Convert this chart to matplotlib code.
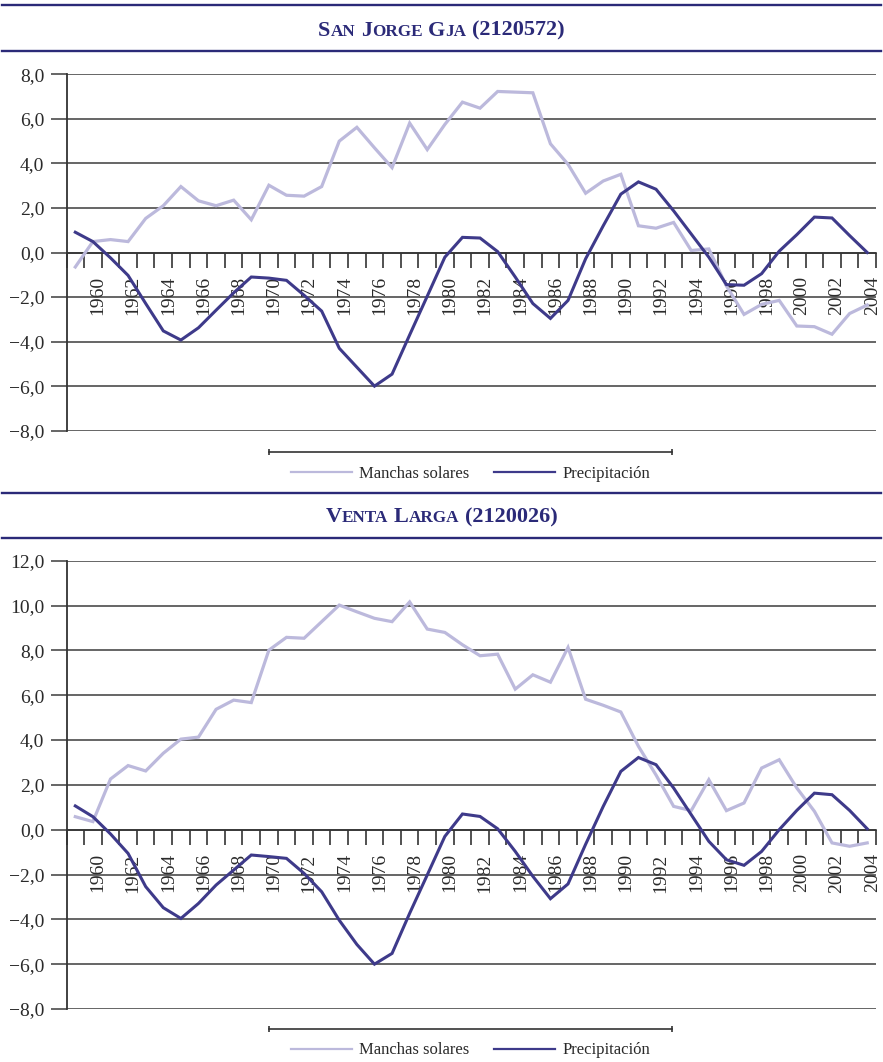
import matplotlib
matplotlib.use("Agg")
import matplotlib.pyplot as plt
from matplotlib.lines import Line2D
from matplotlib.ticker import FixedLocator, FuncFormatter
import matplotlib.transforms as mtransforms

# ---------------- data ----------------
years = list(range(1959, 2005))
label_years = list(range(1960, 2005, 2))

sj_manchas = [-0.65, 0.49, 0.58, 0.49, 1.53, 2.10, 2.96, 2.32, 2.10, 2.35,
              1.47, 3.02, 2.57, 2.53, 2.96, 5.00, 5.62, 4.70, 3.81, 5.81,
              4.62, 5.75, 6.75, 6.48, 7.23, 7.20, 7.17, 4.88, 3.96, 2.66,
              3.21, 3.51, 1.20, 1.09, 1.35, 0.09, 0.16, -1.50, -2.78, -2.33,
              -2.15, -3.30, -3.33, -3.67, -2.74, -2.36]
sj_precip = [0.91, 0.49, -0.24, -1.03, -2.29, -3.52, -3.93, -3.38, -2.59, -1.81,
             -1.10, -1.15, -1.25, -1.92, -2.63, -4.30, -5.15, -6.00, -5.46, -3.70,
             -1.96, -0.21, 0.68, 0.65, 0.04, -1.10, -2.29, -2.96, -2.15, -0.28,
             1.20, 2.62, 3.17, 2.84, 1.87, 0.83, -0.21, -1.44, -1.47, -0.95,
             0.06, 0.80, 1.59, 1.55, 0.76, 0.00]
vl_manchas = [0.58, 0.36, 2.26, 2.86, 2.62, 3.41, 4.04, 4.13, 5.37, 5.78,
              5.67, 8.01, 8.58, 8.54, 9.28, 10.02, 9.72, 9.43, 9.28, 10.16,
              8.95, 8.80, 8.25, 7.76, 7.83, 6.27, 6.91, 6.58, 8.13, 5.82,
              5.55, 5.25, 3.72, 2.44, 1.04, 0.85, 2.23, 0.85, 1.19, 2.75,
              3.12, 1.86, 0.82, -0.59, -0.74, -0.59]
vl_precip = [1.06, 0.58, -0.19, -1.06, -2.54, -3.48, -3.96, -3.29, -2.47, -1.80,
             -1.13, -1.20, -1.28, -1.95, -2.77, -4.04, -5.12, -6.00, -5.52, -3.73,
             -2.02, -0.30, 0.70, 0.59, 0.04, -0.97, -2.08, -3.08, -2.42, -0.65,
             1.04, 2.60, 3.22, 2.90, 1.86, 0.67, -0.52, -1.34, -1.59, -0.97,
             0.00, 0.86, 1.63, 1.56, 0.86, 0.04]

series_names = ["Manchas solares", "Precipitación"]
panel_titles = ["San Jorge Gja (2120572)", "Venta Larga (2120026)"]

# ---------------- style ----------------
W, H = 883, 1062
DPI = 100
SERIF = ["Liberation Serif", "DejaVu Serif"]
C_LIGHT = "#bcb9dc"
C_DARK = "#3e3a8a"
C_NAVY = "#2b2a78"
C_GRID = "#3c3c3c"
C_TEXT = "#2a2a2a"

plt.rcParams["font.family"] = SERIF

fig = plt.figure(figsize=(W / DPI, H / DPI), dpi=DPI)


def fx(px):
    return px / W


def fy(py):
    return 1 - py / H


def ytick_fmt(v, pos):
    s = f"{abs(v):.1f}".replace(".", ",")
    return ("\u2212" + s) if v < 0 else s


def smallcaps(text, cx_px, base_px, big, small, color):
    renderer = fig.canvas.get_renderer()
    runs = []
    for ch in text:
        if ch == " ":
            runs.append((" ", big))
            continue
        size = small if ch.islower() else big
        c = ch.upper()
        if runs and runs[-1][1] == size and runs[-1][0] != " ":
            runs[-1] = (runs[-1][0] + c, size)
        else:
            runs.append((c, size))
    objs = []
    total = 0.0
    for s, size in runs:
        if s == " ":
            w = 0.26 * size * DPI / 72
            objs.append((None, w))
        else:
            t = fig.text(0, fy(base_px), s, fontsize=size, fontweight="bold",
                         color=color, va="baseline", ha="left", family=SERIF)
            w = t.get_window_extent(renderer).width
            objs.append((t, w))
        total += w
    x = cx_px - total / 2
    for t, w in objs:
        if t is not None:
            t.set_x(fx(x))
        x += w


def hline_fig(y_px, x0, x1, color, lw, **kw):
    fig.add_artist(Line2D([fx(x0), fx(x1)], [fy(y_px), fy(y_px)],
                          transform=fig.transFigure, color=color, lw=lw, **kw))


panels = [
    dict(title=panel_titles[0], m=sj_manchas, p=sj_precip, ylim=(-8, 8),
         top=74.3, bot=430.7, band=(5, 51), base=35.5, bracket=452.3, leg=473.5),
    dict(title=panel_titles[1], m=vl_manchas, p=vl_precip, ylim=(-8, 12),
         top=560.7, bot=1009.0, band=(493, 538), base=522.5, bracket=1029.0, leg=1050.5),
]

LEFT, RIGHT = 66.5, 876.0
xs = list(range(len(years)))

for P in panels:
    ax = fig.add_axes([fx(LEFT), fy(P["bot"]), fx(RIGHT - LEFT), (P["bot"] - P["top"]) / H])
    ax.plot(xs, P["m"], color=C_LIGHT, lw=2.3, solid_joinstyle="miter", zorder=3)
    ax.plot(xs, P["p"], color=C_DARK, lw=2.2, solid_joinstyle="miter", zorder=4)
    ax.set_xlim(-0.5, len(years) - 0.5)
    ax.set_ylim(*P["ylim"])
    ax.set_yticks(list(range(P["ylim"][0], P["ylim"][1] + 1, 2)))
    ax.yaxis.set_major_formatter(FuncFormatter(ytick_fmt))
    ax.yaxis.grid(True, color=C_GRID, lw=1.1)
    ax.set_axisbelow(True)
    for s in ("top", "right"):
        ax.spines[s].set_visible(False)
    ax.spines["left"].set_color("#333333")
    ax.spines["left"].set_linewidth(1.3)
    ax.spines["bottom"].set_position(("data", 0))
    ax.spines["bottom"].set_color("#333333")
    ax.spines["bottom"].set_linewidth(1.2)
    lab_pos = [years.index(y) for y in label_years]
    ax.set_xticks(lab_pos)
    ax.set_xticklabels([str(y) for y in label_years])
    ax.xaxis.set_minor_locator(FixedLocator([i - 0.5 for i in range(len(years) + 1)]))
    ax.tick_params(axis="x", which="major", length=0, pad=17, labelsize=14,
                   labelrotation=90, labelcolor=C_TEXT)
    ax.tick_params(axis="x", which="minor", length=10.5, width=1.2, color="#333333",
                   direction="out")
    ax.tick_params(axis="y", which="major", length=11.5, width=1.1, color=C_GRID,
                   pad=4.5, labelsize=14, labelcolor=C_TEXT)
    off = mtransforms.ScaledTranslation(5 / DPI, 0, fig.dpi_scale_trans)
    for lab in ax.get_xticklabels():
        lab.set_transform(lab.get_transform() + off)

    # title band
    hline_fig(P["band"][0], 2, 881, C_NAVY, 1.7)
    hline_fig(P["band"][1], 2, 881, C_NAVY, 1.7)
    smallcaps(P["title"], W / 2, P["base"], 16, 12.3, C_NAVY)

    # bracket above legend
    fig.add_artist(Line2D([fx(269), fx(672)], [fy(P["bracket"])] * 2,
                          transform=fig.transFigure, color="#333333", lw=1.2,
                          marker="|", markersize=5, markeredgewidth=1.2))
    handles = [Line2D([], [], color=C_LIGHT, lw=1.6), Line2D([], [], color=C_DARK, lw=1.6)]
    fig.legend(handles, series_names, loc="center",
               bbox_to_anchor=(fx(470.5), fy(P["leg"])), ncol=2, frameon=False,
               fontsize=12, handlelength=3.66, handletextpad=0.42, columnspacing=1.5,
               labelcolor=C_TEXT, borderpad=0, borderaxespad=0)

fig.savefig("out.png", dpi=DPI)
